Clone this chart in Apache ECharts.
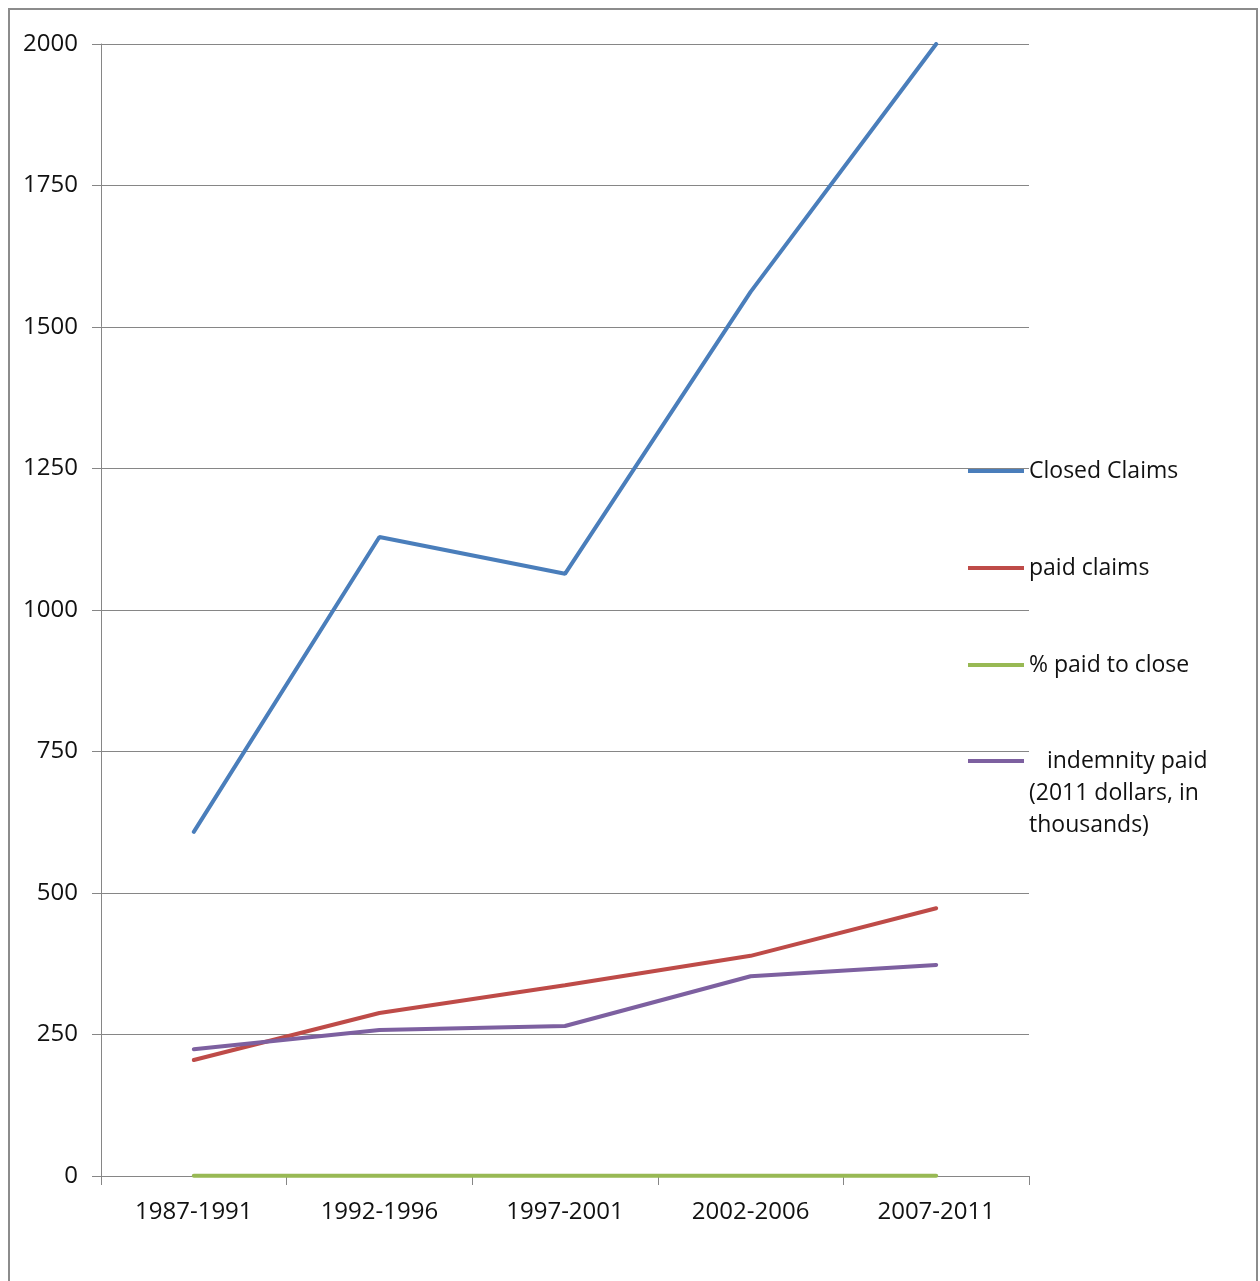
<!DOCTYPE html>
<html>
<head>
<meta charset="utf-8">
<script src="https://cdn.jsdelivr.net/npm/echarts@6/dist/echarts.min.js"></script>
<style>
  html, body { margin: 0; padding: 0; background: #fff; }
  #frame {
    position: absolute; left: 8px; top: 8px; width: 1250px; height: 1290px;
    border: 2px solid #8c8c8c; box-sizing: border-box;
  }
  #chart { position: absolute; left: 0; top: 0; width: 1260px; height: 1281px; }
</style>
</head>
<body>
<div id="frame"></div>
<div id="chart"></div>
<script>
/* ===== Data ===== */
const periods = ['1987-1991', '1992-1996', '1997-2001', '2002-2006', '2007-2011'];
const closedClaims = [608, 1129, 1064, 1562, 2000];
const paidClaims = [205, 288, 337, 389, 473];
const pctPaidToClose = [0.34, 0.26, 0.32, 0.25, 0.24];
const indemnityPaid = [224, 258, 265, 353, 373];
const yTicks = { min: 0, max: 2000, interval: 250 };

const seriesNames = ['Closed Claims', 'paid claims', '% paid to close', 'indemnity paid'];
// blank lines in front keep the first text line level with the legend line
const legendLabels = {
    'indemnity paid': '\n\n   indemnity paid\n(2011 dollars, in\nthousands)'
};
const colors = ['#4A7EBB', '#BE4B48', '#98B954', '#7D60A0'];

const FONT = '"Open Sans", "Liberation Sans", sans-serif';

const chart = echarts.init(document.getElementById('chart'));

const makeLine = (name, data, color) => ({
    name,
    type: 'line',
    data,
    symbol: 'none',
    lineStyle: { color, width: 4, cap: 'round' },
    itemStyle: { color },
    z: 3
});

const legendBase = {
    orient: 'vertical',
    left: 963,
    itemWidth: 56,
    itemHeight: 4,
    itemGap: 65,
    icon: 'rect',
    textStyle: {
        fontFamily: FONT,
        fontSize: 23,
        color: '#111',
        lineHeight: 32
    },
    formatter: n => legendLabels[n] || n
};

const option = {
    animation: false,
    grid: {
        left: 101,
        right: 231,
        top: 44,
        bottom: 105
    },
    legend: [
        Object.assign({}, legendBase, { top: 450, data: seriesNames.slice(0, 3) }),
        Object.assign({}, legendBase, { top: 676, data: seriesNames.slice(3) })
    ],
    xAxis: {
        type: 'category',
        data: periods,
        boundaryGap: true,
        axisLine: { lineStyle: { color: '#868686', width: 1 } },
        axisTick: { show: true, length: 9, lineStyle: { color: '#868686' } },
        axisLabel: {
            color: '#111',
            fontFamily: FONT,
            fontSize: 24,
            margin: 24
        }
    },
    yAxis: {
        type: 'value',
        min: yTicks.min,
        max: yTicks.max,
        interval: yTicks.interval,
        axisLine: { show: true, lineStyle: { color: '#868686', width: 1 } },
        axisTick: { show: true, length: 9, lineStyle: { color: '#868686' } },
        splitLine: { lineStyle: { color: '#868686', width: 1 } },
        axisLabel: {
            color: '#111',
            fontFamily: FONT,
            fontSize: 24,
            margin: 23,
            formatter: v => String(v)
        }
    },
    series: [
        makeLine(seriesNames[0], closedClaims, colors[0]),
        makeLine(seriesNames[1], paidClaims, colors[1]),
        makeLine(seriesNames[2], pctPaidToClose, colors[2]),
        makeLine(seriesNames[3], indemnityPaid, colors[3])
    ]
};

chart.setOption(option);
window.addEventListener('resize', () => chart.resize());
</script>
</body>
</html>
